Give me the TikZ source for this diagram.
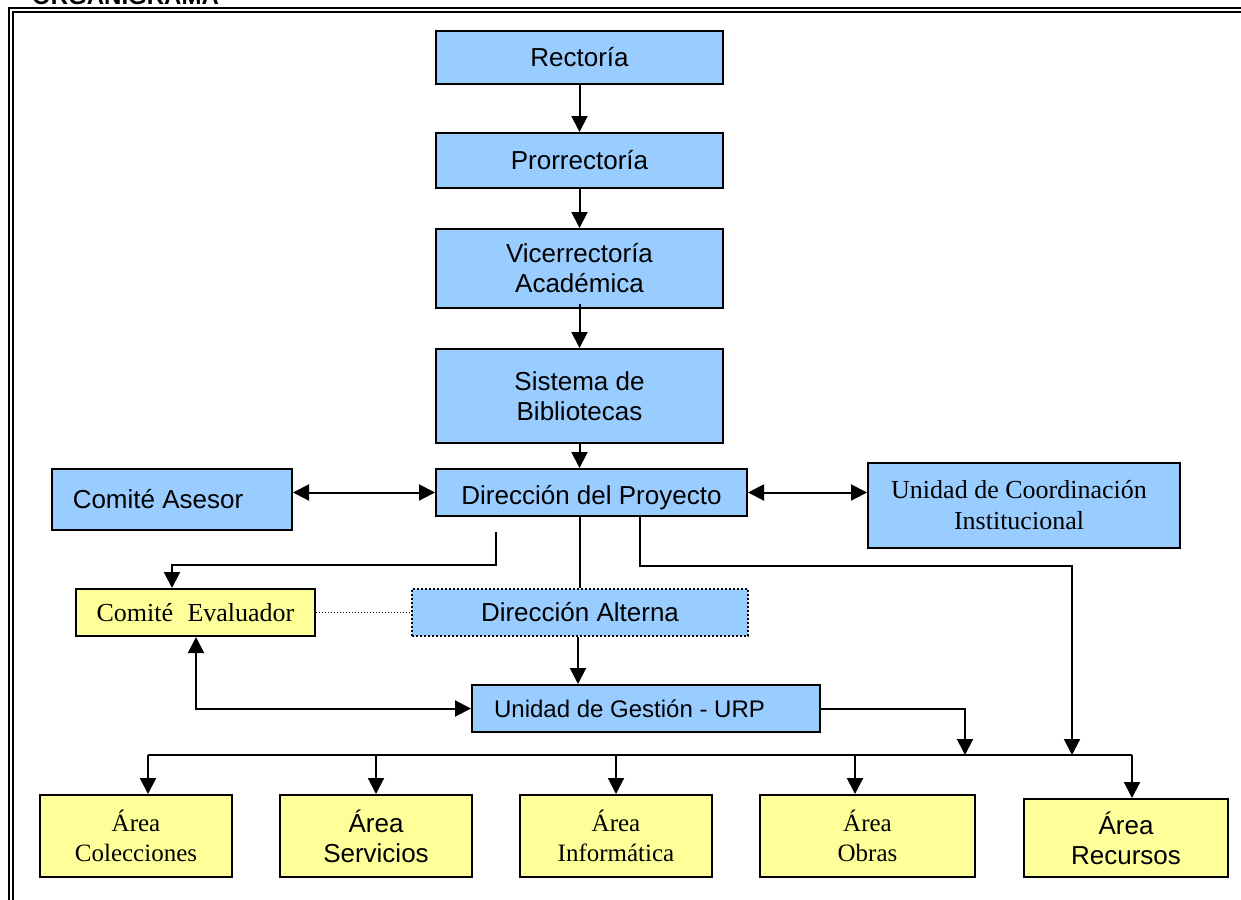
\documentclass[tikz,border=0pt]{standalone}
\usepackage{fontspec}
\setmainfont{Liberation Serif}
\newfontfamily\arialf{Liberation Sans}
\usetikzlibrary{arrows.meta}
\definecolor{boxblue}{HTML}{99CCFF}
\definecolor{boxyellow}{HTML}{FFFF99}
\tikzset{
  basebox/.style={draw=black, line width=2pt, inner sep=0pt, align=center},
  bluebox/.style={basebox, fill=boxblue},
  yelbox/.style={basebox, fill=boxyellow},
  sanstxt/.style={font=\arialf\fontsize{26}{30}\selectfont},
  seriftxt/.style={font=\fontsize{26}{31}\selectfont},
  smallserif/.style={font=\fontsize{25}{30}\selectfont},
  tip/.tip={Triangle[length=16pt,width=16pt]},
  plainline/.style={line width=2pt},
  conn/.style={line width=2pt, -tip},
  dconn/.style={line width=2pt, tip-tip},
}
\begin{document}
\begin{tikzpicture}[x=1pt,y=-1pt]
\useasboundingbox (0,0) rectangle (1241,899);
% frame
\draw[line width=1.8pt] (9,910) -- (9,8.2) -- (1260,8.2);
\draw[line width=1.6pt] (12.8,910) -- (12.8,12) -- (1260,12);
\node[font=\arialf\bfseries\fontsize{24}{24}\selectfont, anchor=base west, inner sep=0pt] (title) at (32,4.5) {ORGANIGRAMA};

% boxes
\node[bluebox, sanstxt, minimum width=287pt, minimum height=53pt] (rec) at (579.5,57.5) {Rectoría};
\node[bluebox, sanstxt, minimum width=287pt, minimum height=55pt] (pro) at (579.5,160.5) {Prorrectoría};
\node[bluebox, sanstxt, minimum width=287pt, minimum height=79pt] (vic) at (579.5,268.5) {Vicerrectoría\\Académica};
\node[bluebox, sanstxt, minimum width=287pt, minimum height=94pt] (sis) at (579.5,396) {Sistema de\\Bibliotecas};
\node[bluebox, sanstxt, text height=24pt, text depth=0pt, minimum width=311pt, minimum height=47pt] (dir) at (591.5,492.5) {Dirección del Proyecto};
\node[bluebox, sanstxt, minimum width=240pt, minimum height=61pt] (ca) at (172,499.5) {Comité Asesor\hspace*{28pt}};
\node[bluebox, seriftxt, minimum width=312pt, minimum height=85pt] (uci) at (1024,505.5) {Unidad de Coordinación\hspace*{10pt}\\Institucional\hspace*{10pt}};
\node[yelbox, seriftxt, minimum width=239pt, minimum height=47pt] (ce) at (195.5,612.5) {Comité\hspace{0.3em} Evaluador};
\node[bluebox, sanstxt, dotted, line width=1.6pt, minimum width=336pt, minimum height=47pt] (da) at (580,612.5) {Dirección Alterna};
\node[bluebox, font=\arialf\fontsize{24}{30}\selectfont, minimum width=348pt, minimum height=47pt] (ug) at (646,708.5) {Unidad de Gestión - URP\hspace*{33pt}};
\node[yelbox, smallserif, minimum width=192pt, minimum height=82pt] (col) at (136,836) {Área\\Colecciones};
\node[yelbox, sanstxt, minimum width=192pt, minimum height=82pt] (ser) at (376,836) {Área\\Servicios};
\node[yelbox, smallserif, minimum width=192pt, minimum height=82pt] (inf) at (616,836) {Área\\Informática};
\node[yelbox, smallserif, minimum width=215pt, minimum height=82pt] (obr) at (867.5,836) {Área\\Obras};
\node[yelbox, sanstxt, minimum width=204pt, minimum height=78pt] (recu) at (1126,838) {Área\\Recursos};

% bus coordinates
\coordinate (b1) at (148,755);
\coordinate (b2) at (376,755);
\coordinate (b3) at (616,755);
\coordinate (b4) at (855,755);
\coordinate (b5) at (965,755);
\coordinate (b6) at (1072,755);
\coordinate (b7) at (1132,755);
\coordinate (d1) at (496,532);

% vertical chain
\draw[conn] (rec) -- (pro);
\draw[conn] (pro) -- (vic);
\draw[conn] ([yshift=5pt]vic.south) -- (sis.north);
\draw[conn] (sis) -- (sis.south |- dir.north);
% lateral
\draw[dconn] (ca.east |- dir.west) -- (dir.west);
\draw[dconn] (dir.east) -- (dir.east -| uci.west);
% branches from direccion
\draw[conn] (d1) -- ++(0,33) -| ([xshift=-23.5pt]ce.north);
\draw[plainline] (da.north |- dir.south) -- (da.north);
\draw[conn] ([xshift=48.5pt]dir.south) -- ++(0,49) -| (b6);
\draw[dotted, line width=1pt] (ce.east) -- (da.west);
\draw[conn] ([xshift=-2pt]da.south) -- ([xshift=-2pt]da.south |- ug.north);
\draw[dconn] ([xshift=0.5pt]ce.south) |- (ug.west);
\draw[conn] (ug.east) -| (b5);
% bus
\draw[plainline] (b1) -- (b7);
\draw[conn] (b1) -- (b1 |- col.north);
\draw[conn] (b2) -- (b2 |- ser.north);
\draw[conn] (b3) -- (b3 |- inf.north);
\draw[conn] (b4) -- (b4 |- obr.north);
\draw[conn] (b7) -- (b7 |- recu.north);
\end{tikzpicture}
\end{document}
